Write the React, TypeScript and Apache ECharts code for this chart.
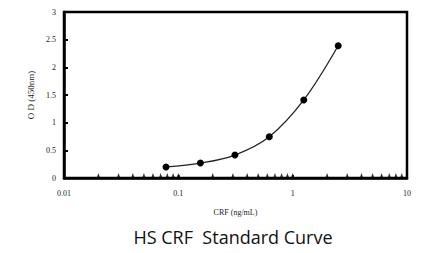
import React, { useEffect, useRef } from "react";
import * as echarts from "echarts";

const concentrations = [0.078, 0.156, 0.3125, 0.625, 1.25, 2.5];
const odValues = [0.2, 0.27, 0.415, 0.745, 1.41, 2.39];
const minorTickValues = [
  0.02, 0.03, 0.04, 0.05, 0.06, 0.07, 0.08, 0.09, 0.1,
  0.2, 0.3, 0.4, 0.5, 0.6, 0.7, 0.8, 0.9, 1,
  2, 3, 4, 5, 6, 7, 8, 9,
];
const xTickLabels: Record<string, string> = { "0.01": "0.01", "0.1": "0.1", "1": "1", "10": "10" };
const yTickLabels = ["0", "0.5", "1", "1.5", "2", "2.5", "3"];

export default function App() {
  const ref = useRef<HTMLDivElement>(null);
  useEffect(() => {
    if (!ref.current) return;
    const chart = echarts.init(ref.current, null, { renderer: "svg" });
    const serif = "'Liberation Serif', 'DejaVu Serif', serif";
    chart.setOption({
      animation: false,
      backgroundColor: "#fff",
      title: {
        text: "HS CRF  Standard Curve",
        left: 228,
        textAlign: "center",
        top: 223,
        textStyle: { fontFamily: "'Open Sans', sans-serif", fontSize: 18, fontWeight: 500, color: "#111" },
      },
      grid: { left: 64, right: 18, top: 12, bottom: 75, show: true, borderColor: "#000", borderWidth: 2.5 },
      xAxis: {
        type: "log",
        logBase: 10,
        min: 0.01,
        max: 10,
        name: "CRF (ng/mL)",
        nameLocation: "middle",
        nameGap: 30,
        nameTextStyle: { fontFamily: serif, fontSize: 8, color: "#222" },
        axisLine: { lineStyle: { color: "#000", width: 2.5 } },
        axisTick: { show: true, inside: true, length: 3, lineStyle: { color: "#000", width: 1.5 } },
        splitLine: { show: false },
        axisLabel: {
          margin: 11,
          fontFamily: serif,
          fontSize: 8,
          color: "#222",
          formatter: (v: number) => xTickLabels[String(v)] ?? String(v),
        },
      },
      yAxis: {
        type: "value",
        min: 0,
        max: 3,
        interval: 0.5,
        name: "O D (450nm)",
        nameLocation: "middle",
        nameGap: 29,
        nameTextStyle: { fontFamily: serif, fontSize: 9, color: "#222" },
        axisLine: { show: true, lineStyle: { color: "#000", width: 2.5 } },
        axisTick: { show: true, inside: true, length: 4, lineStyle: { color: "#000", width: 2 } },
        splitLine: { show: false },
        axisLabel: {
          margin: 8,
          fontFamily: serif,
          fontSize: 8,
          color: "#222",
          formatter: (v: number) => yTickLabels[Math.round(v / 0.5)] ?? String(v),
        },
      },
      series: [
        {
          type: "line",
          data: concentrations.map((c, i) => [c, odValues[i]]),
          smooth: 0.35,
          symbol: "circle",
          symbolSize: 7,
          itemStyle: { color: "#000" },
          lineStyle: { color: "#222", width: 1.3 },
          z: 3,
        },
        {
          type: "scatter",
          data: minorTickValues.map((v) => [v, 0]),
          symbol: "triangle",
          symbolSize: [3.5, 5],
          symbolOffset: [0, -2.5],
          itemStyle: { color: "#000" },
          silent: true,
          z: 2,
        },
      ],
    });
    return () => chart.dispose();
  }, []);
  return <div ref={ref} style={{ position: "fixed", left: 0, top: 0, width: 425, height: 253 }} />;
}
